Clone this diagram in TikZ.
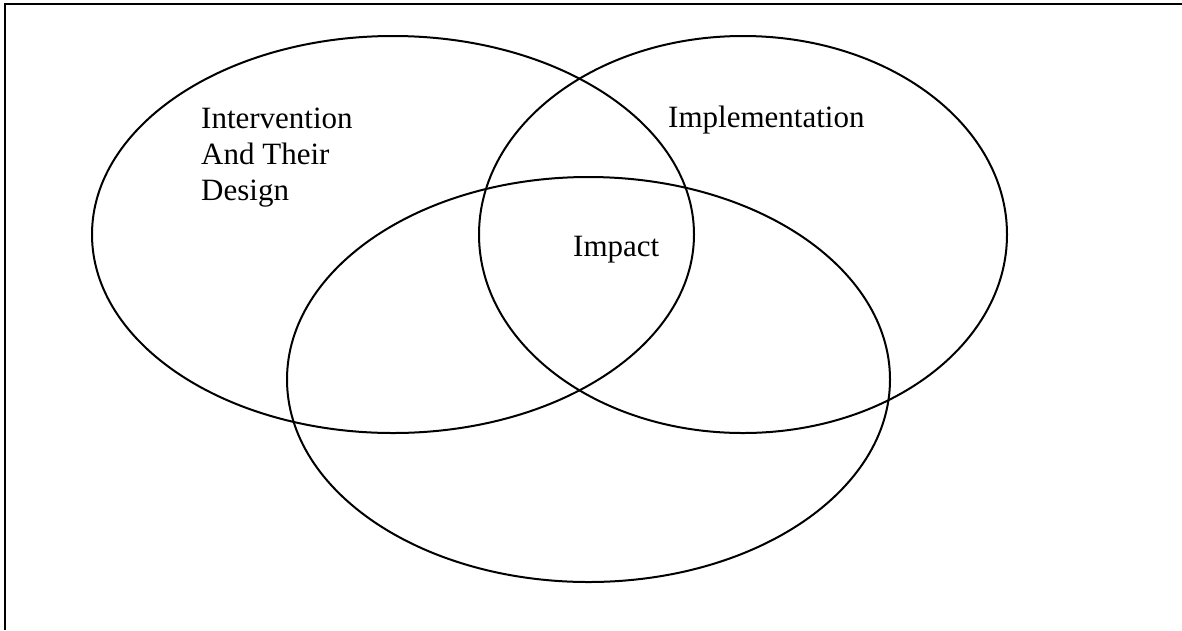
\documentclass[tikz,border=0pt]{standalone}
\usepackage{fontspec}
\setmainfont{Liberation Serif}
\usetikzlibrary{shapes.geometric}
\begin{document}
\begin{tikzpicture}[x=1pt,y=-1pt,
  setring/.style={draw=black, line width=2pt, ellipse, inner sep=0pt},
  label/.style={inner sep=0pt, font=\fontsize{31}{36}\selectfont, align=left}]
\useasboundingbox (0,0) rectangle (1182,630);
% frame (only top and left edges fall inside the page)
\draw[line width=2.4pt] (5,630) -- (5,4) -- (1182,4);
% the three sets
\node[setring, minimum width=602pt, minimum height=397pt] (design) at (393,234.5) {};
\node[setring, minimum width=528pt, minimum height=397pt] (impl) at (743,234.5) {};
\node[setring, minimum width=603pt, minimum height=405pt] (impact) at (588.5,379.5) {};
% labels (base of a multi-line label is its last line)
\node[label, anchor=base west] (tdesign) at (201,200) {Intervention\\And Their\\Design};
\node[label, anchor=base west] (timpl) at (668,127) {Implementation};
\node[label, anchor=base west] (timpact) at (573,256) {Impact};
\end{tikzpicture}
\end{document}
